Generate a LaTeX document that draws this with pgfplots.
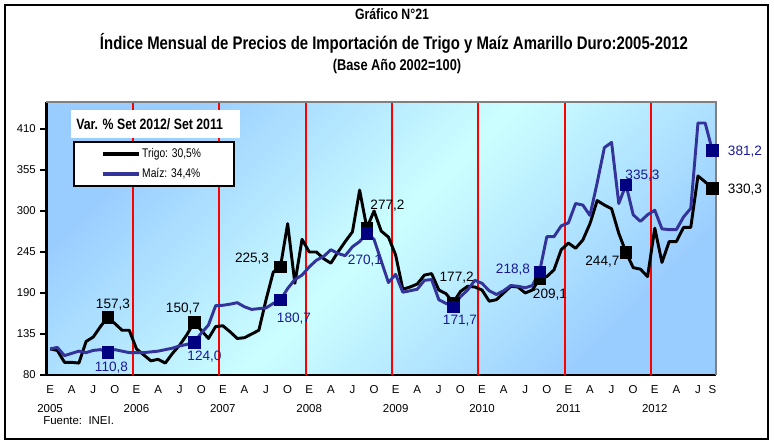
\documentclass[border=0pt]{standalone}
\usepackage{fontspec}
\setmainfont{Liberation Sans}
\newfontfamily\narrow[FakeStretch=0.82]{Liberation Sans}
\usepackage{pgfplots}
\pgfplotsset{compat=1.18}
\definecolor{maizline}{RGB}{51,51,153}
\definecolor{maizmark}{RGB}{0,0,128}
\definecolor{maiztext}{RGB}{25,25,150}
\definecolor{bgblue}{RGB}{153,204,255}
\definecolor{bgcyan}{RGB}{204,255,255}
\newcommand\lbl{\fontsize{10.2}{12}\selectfont}

% indice mensual, 0 = enero 2005 ... 92 = setiembre 2012
\pgfplotstableread{
i trigo maiz
0 115 115
1 113 117
2 97 106
3 97 109
4 96 112
5 125 110
6 131 113
7 145 114
8 157.3 110.8
9 149 114
10 140 112
11 140 110
12 115 110
13 107 110
14 99 111
15 101 112
16 96 114
17 109 116
18 120 119
19 134 121
20 150.7 124.0
21 140 136
22 129 147
23 145 173
24 146 173.5
25 138 175
26 129 177
27 130 171.5
28 135 168
29 140 169
30 181 170
31 218 176
32 225.3 180.7
33 283 196
34 203 208
35 262 214
36 245 225
37 245 234
38 236 239
39 230 248
40 245 243
41 259 240
42 272 252
43 328 259
44 277.2 270.1
45 300 262
46 273 233
47 265 204
48 241 215
49 195 191
50 198 193
51 202 195
52 214 207
53 216 208
54 194 181
55 189 176
56 177.2 171.7
57 192 185
58 199 194
59 198 207
60 194 203
61 179 193
62 181 188
63 190 193
64 199 200
65 198 199
66 190 197
67 194 200
68 209.1 218.8
69 212 265.5
70 221 265.5
71 248 280
72 257 284
73 250 310
74 261 308
75 283 294
76 314 338
77 308 385
78 303 392
79 270 310
80 244.7 335.3
81 224 295
82 222 286
83 212 295
84 277 301
85 231 276
86 259 275
87 259 275
88 278 292
89 278 303.5
90 347 418
91 339 418
92 330.3 381.2
}\precios

\begin{document}
\begin{tikzpicture}
\begin{scope}[x=0.75pt, y=-0.75pt, shift={(-34.875pt,281.25pt)}]
  \path[use as bounding box] (0,0) rectangle (774,441);
  \fill[white] (0,0) rectangle (774,441);
  \draw[black, line width=1.5pt] (5,5) rectangle (768,439);
\end{scope}

\begin{axis}[at={(0pt,0pt)}, anchor=south west,
    scale only axis, width=502.1pt, height=204.75pt,
    xmin=-0.5, xmax=92.5, ymin=80, ymax=446.2, clip=false,
    axis x line*=bottom, axis y line*=left,
    axis line style={black, line width=1.8pt},
    axis background/.style={top color=bgblue, bottom color=bgblue, middle color=bgcyan, shading angle=45},
    ytick={80,135,190,245,300,355,410},
    yticklabel style={font=\fontsize{8.5}{10}\selectfont},
    ytick style={black, line width=0.8pt},
    tick align=outside, major tick length=4.5pt,
    xtick={0,3,...,90,92},
    xticklabels={{E\\2005},A,J,O,{E\\2006},A,J,O,{E\\2007},A,J,O,{E\\2008},A,J,O,
      {E\\2009},A,J,O,{E\\2010},A,J,O,{E\\2011},A,J,O,{E\\2012},A,J,S},
    xticklabel style={font=\fontsize{8.6}{14.5}\selectfont, align=center, anchor=north, yshift=0.3pt},
    xtick style={draw=none},
    extra x ticks={11.5,23.5,...,83.5}, extra x tick labels={},
    extra x tick style={grid=major, major grid style={red, line width=1.5pt}, xtick style={draw=none}},
    /pgf/number format/assume math mode=true,
    legend style={at={(0.0396,0.857)}, anchor=north west, draw=black, line width=1.5pt,
      fill=white, inner xsep=0pt, inner ysep=3.5pt, row sep=4pt,
      font=\narrow\fontsize{9.4}{11}\selectfont,
      nodes={inner xsep=1pt, inner ysep=1pt, text height=7pt, text depth=2pt}},
    legend cell align=left,
    legend image code/.code={\path[draw=none] (0pt,0pt) -- (22pt,0pt);
      \draw[#1, line width=2.3pt] (22pt,0pt) -- (49pt,0pt);}]

  \addplot[black, line width=2.2pt, line join=round, mark=none] table[x=i, y=trigo]{\precios};
  \addlegendentry{Trigo: 30,5\%\hspace*{24pt}}
  \addplot[maizline, line width=2.2pt, line join=round, mark=none] table[x=i, y=maiz]{\precios};
  \addlegendentry{Maíz: 34,4\%\hspace*{24pt}}

  % setiembre de cada ano
  \addplot[only marks, mark=square*, mark size=4.3pt, black, forget plot] coordinates
    {(8,157.3) (20,150.7) (32,225.3) (44,277.2) (56,177.2) (68,209.1) (80,244.7) (92,330.3)};
  \addplot[only marks, mark=square*, mark size=4.3pt, maizmark, forget plot] coordinates
    {(8,110.8) (20,124.0) (32,180.7) (44,270.1) (56,171.7) (68,218.8) (80,335.3) (92,381.2)};

  \draw[gray, line width=1.8pt] (rel axis cs:0,1) -- (rel axis cs:1,1) -- (rel axis cs:1,0);

  \node[font=\lbl] at (axis cs:8.74,173.9) {157,3};
  \node[font=\lbl] at (axis cs:18.46,168.5) {150,7};
  \node[font=\lbl] at (axis cs:28.05,236.2) {225,3};
  \node[font=\lbl] at (axis cs:46.87,306.6) {277,2};
  \node[font=\lbl] at (axis cs:56.48,210) {177,2};
  \node[font=\lbl] at (axis cs:69.44,187.3) {209,1};
  \node[font=\lbl] at (axis cs:76.73,231.5) {244,7};
  \node[font=\lbl] at (axis cs:96.53,328.8) {330,3};
  \node[font=\lbl, text=maiztext] at (axis cs:8.53,89.4) {110,8};
  \node[font=\lbl, text=maiztext] at (axis cs:21.45,104) {124,0};
  \node[font=\lbl, text=maiztext] at (axis cs:33.88,155) {180,7};
  \node[font=\lbl, text=maiztext] at (axis cs:43.74,234) {270,1};
  \node[font=\lbl, text=maiztext] at (axis cs:56.94,152.4) {171,7};
  \node[font=\lbl, text=maiztext] at (axis cs:64.3,221) {218,8};
  \node[font=\lbl, text=maiztext] at (axis cs:82.29,346.9) {335,3};
  \node[font=\lbl, text=maiztext] at (axis cs:96.53,379) {381,2};
\end{axis}

\begin{scope}[x=0.75pt, y=-0.75pt, shift={(-34.875pt,281.25pt)}]
  \node[font=\narrow\bfseries\fontsize{11.25}{13}\selectfont] at (392,14) {Gráfico N°21};
  \node[font=\narrow\bfseries\fontsize{13.65}{15}\selectfont] at (394,43)
    {Índice Mensual de Precios de Importación de Trigo y Maíz Amarillo Duro:2005-2012};
  \node[font=\narrow\bfseries\fontsize{11.7}{13}\selectfont] at (397,66) {(Base Año 2002=100)};
  \fill[white] (71,110) rectangle (240,138);
  \node[anchor=west, inner sep=0pt, font=\narrow\bfseries\fontsize{11.25}{13}\selectfont] at (76,124)
    {Var. \% Set 2012/ Set 2011};
  \node[anchor=west, inner sep=0pt, font=\fontsize{8.6}{10}\selectfont] at (43,421) {Fuente:\ \ INEI.};
\end{scope}
\end{tikzpicture}
\end{document}
